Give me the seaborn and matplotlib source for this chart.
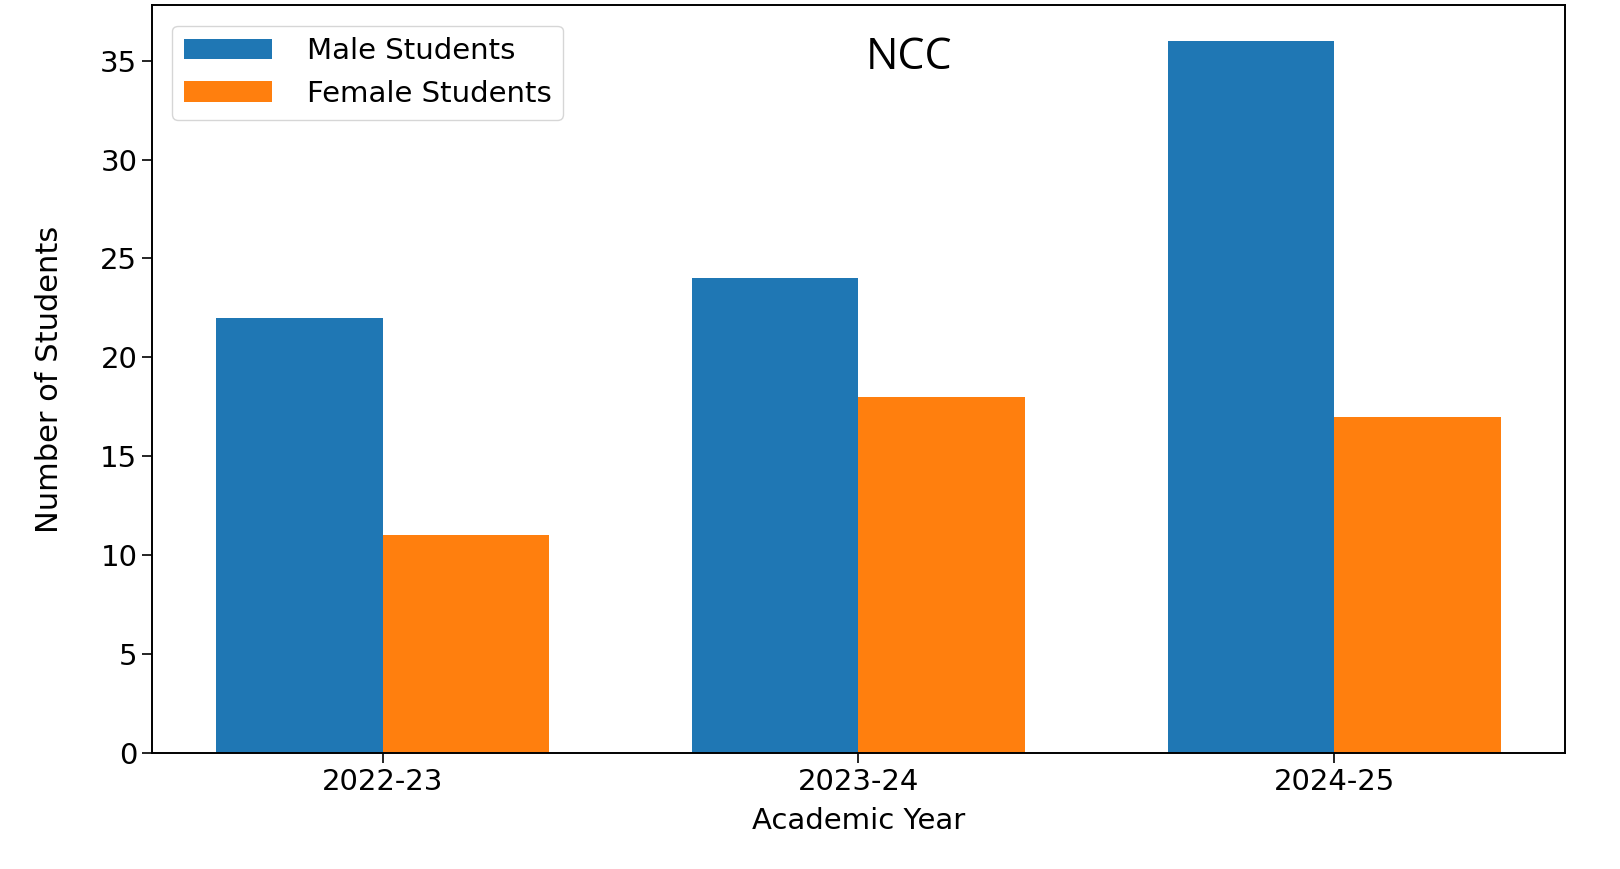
import numpy as np
import pandas as pd
import seaborn as sns
import matplotlib
matplotlib.use("Agg")
import matplotlib.pyplot as plt

# data
years = ['2022-23', '2023-24', '2024-25']
male_students = [22, 24, 36]
female_students = [11, 18, 17]

df = pd.DataFrame({
    'Academic Year': years * 2,
    'Number of Students': male_students + female_students,
    'Group': ['Male Students'] * 3 + ['Female Students'] * 3,
})

sns.set_theme(style="ticks")
plt.rcParams['font.family'] = ['DejaVu Sans']
plt.rcParams['text.color'] = 'black'
plt.rcParams['axes.labelcolor'] = 'black'

fig = plt.figure(figsize=(16.2, 8.69), dpi=100)
ax = fig.add_axes([0.0938, 0.1335, 0.8722, 0.8605])

sns.barplot(data=df, x='Academic Year', y='Number of Students', hue='Group',
            palette=['#1f77b4', '#ff7f0e'], width=0.7, saturation=1,
            edgecolor='none', linewidth=0, ax=ax)

ax.set_xlim(-0.485, 2.485)
ax.set_ylim(0, 37.8)
ax.set_yticks(np.arange(0, 36, 5))
ax.tick_params(axis='both', labelsize=21, length=7, width=1.2,
               colors='black', labelcolor='black')
for s in ax.spines.values():
    s.set_color('black')
    s.set_linewidth(1.4)

ax.set_xlabel('Academic Year', fontsize=21, labelpad=8)
ax.set_ylabel('Number of Students', fontsize=22,
              family=['Liberation Sans Narrow', 'DejaVu Sans'], labelpad=26)

leg = ax.legend(loc='upper left', fontsize=21, frameon=True, handlelength=3.0,
                handletextpad=1.2, borderaxespad=0.7, fancybox=True,
                edgecolor='#cccccc')
for t in leg.get_texts():
    t.set_color('black')

ax.text(0.536, 0.93, 'NCC', transform=ax.transAxes, ha='center', va='center',
        fontsize=31, family=['Open Sans', 'DejaVu Sans'], color='black')

fig.savefig('out.png', dpi=100)
